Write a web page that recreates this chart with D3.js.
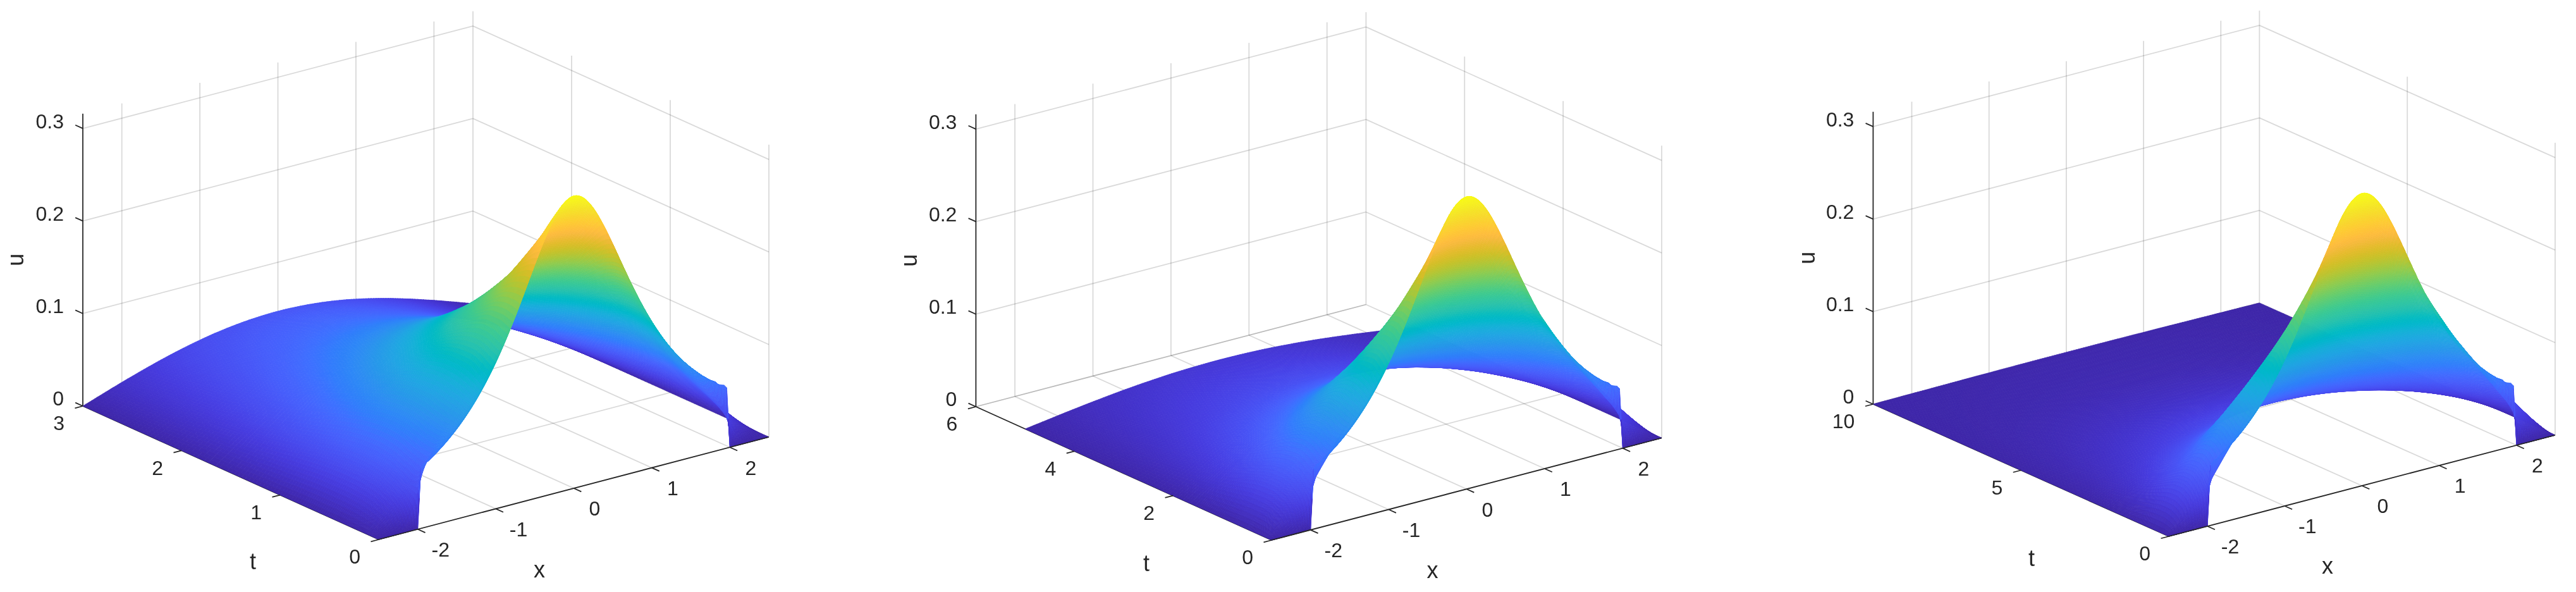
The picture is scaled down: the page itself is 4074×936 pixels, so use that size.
<!DOCTYPE html>
<html><head><meta charset="utf-8"><script src="https://cdn.jsdelivr.net/npm/d3@7"></script>
<style>html,body{margin:0;background:#fff}svg{display:block;filter:blur(.6px)}text{font-family:"Liberation Sans",Arial,sans-serif;fill:#262626}</style></head><body>
<svg id="c" width="4074" height="936"></svg>
<script>
const xGrid=[-2.5,-2.28,-2.14,-2.06,-2,-1.96,-1.86,-1.75,-1.625,-1.5,-1.375,-1.25,-1.125,-1,-.875,-.75,-.625,-.5,-.375,-.25,-.125,0,.125,.25,.375,.5,.625,.75,.875,1,1.125,1.25,1.375,1.5,1.625,1.75,1.86,1.96,2,2.06,2.14,2.28,2.5];
const tGrid=[0,.005,.02,.05,.1,.2,.35,.5,.75,1,1.5,2,3,4,5,7,10];
const uRows=[
[0,0,0,0,0,.0653,.0709,.0778,.0868,.0972,.1093,.1233,.1395,.158,.179,.2022,.2272,.2528,.277,.2974,.3111,.316,.3111,.2974,.277,.2528,.2272,.2022,.179,.158,.1395,.1233,.1093,.0972,.0868,.0778,.0709,.0653,0,0,0,0,0],
[0,0,0,.0037,.0201,.06,.0709,.0779,.0869,.0974,.1095,.1235,.1397,.1583,.1792,.2024,.2273,.2527,.2766,.2967,.3102,.315,.3102,.2967,.2766,.2527,.2273,.2024,.1792,.1583,.1397,.1235,.1095,.0974,.0869,.0779,.0694,.0384,.0201,.0037,0,0,0],
[0,.0003,.0051,.0154,.0279,.045,.069,.0775,.0873,.098,.1102,.1243,.1405,.1591,.18,.203,.2274,.2522,.2753,.2944,.3072,.3117,.3072,.2944,.2753,.2522,.2274,.203,.18,.1591,.1405,.1243,.1102,.098,.0873,.0763,.0604,.0375,.0279,.0154,.0051,.0003,0],
[0,.0042,.0141,.0237,.0325,.042,.062,.074,.0861,.0988,.1117,.126,.1424,.161,.1816,.204,.2275,.2507,.272,.2893,.3006,.3046,.3006,.2893,.272,.2507,.2275,.204,.1816,.161,.1424,.126,.1117,.0988,.0861,.0712,.0551,.0388,.0325,.0237,.0141,.0042,0],
[0,.0117,.0228,.0307,.0373,.042,.0542,.068,.0835,.0985,.1136,.1292,.1461,.1645,.1844,.2053,.2264,.2466,.2645,.2787,.2878,.2909,.2878,.2787,.2645,.2466,.2264,.2053,.1844,.1645,.1461,.1292,.1136,.0985,.0835,.068,.0542,.042,.0373,.0307,.0228,.0117,0],
[0,.0177,.03,.0375,.0434,.0474,.058,.0702,.0849,.1003,.1163,.133,.1503,.168,.186,.2037,.2207,.2361,.2492,.2592,.2655,.2677,.2655,.2592,.2492,.2361,.2207,.2037,.186,.168,.1503,.133,.1163,.1003,.0849,.0702,.058,.0474,.0434,.0375,.03,.0177,0],
[0,.0214,.0353,.0434,.0497,.0539,.0646,.0767,.0909,.1055,.1204,.1355,.1506,.1654,.1797,.193,.2051,.2156,.2241,.2305,.2344,.2357,.2344,.2305,.2241,.2156,.2051,.193,.1797,.1654,.1506,.1355,.1204,.1055,.0909,.0767,.0646,.0539,.0497,.0434,.0353,.0214,0],
[0,.023,.0377,.0461,.0525,.0568,.0675,.0794,.0929,.1064,.1198,.133,.1457,.1579,.1693,.1797,.1889,.1968,.2031,.2077,.2105,.2115,.2105,.2077,.2031,.1968,.1889,.1797,.1693,.1579,.1457,.133,.1198,.1064,.0929,.0794,.0675,.0568,.0525,.0461,.0377,.023,0],
[0,.0227,.037,.0451,.0512,.0552,.0651,.0759,.0878,.0994,.1105,.1211,.131,.1402,.1487,.1562,.1627,.1682,.1725,.1756,.1775,.1781,.1775,.1756,.1725,.1682,.1627,.1562,.1487,.1402,.131,.1211,.1105,.0994,.0878,.0759,.0651,.0552,.0512,.0451,.037,.0227,0],
[0,.0204,.0333,.0405,.0459,.0494,.0582,.0676,.0779,.0878,.0972,.1061,.1143,.1218,.1286,.1346,.1398,.1441,.1475,.1499,.1514,.1519,.1514,.1499,.1475,.1441,.1398,.1346,.1286,.1218,.1143,.1061,.0972,.0878,.0779,.0676,.0582,.0494,.0459,.0405,.0333,.0204,0],
[0,.0151,.0246,.03,.034,.0366,.043,.0499,.0574,.0646,.0714,.0778,.0837,.089,.0938,.0981,.1017,.1047,.1071,.1087,.1098,.1101,.1098,.1087,.1071,.1047,.1017,.0981,.0938,.089,.0837,.0778,.0714,.0646,.0574,.0499,.043,.0366,.034,.03,.0246,.0151,0],
[0,.0113,.0184,.0223,.0253,.0272,.032,.0372,.0428,.0481,.0532,.0579,.0622,.0662,.0698,.0729,.0756,.0778,.0796,.0808,.0816,.0819,.0816,.0808,.0796,.0778,.0756,.0729,.0698,.0662,.0622,.0579,.0532,.0481,.0428,.0372,.032,.0272,.0253,.0223,.0184,.0113,0],
[0,.0065,.0106,.0129,.0146,.0157,.0184,.0214,.0246,.0277,.0306,.0333,.0358,.0381,.0402,.042,.0435,.0448,.0458,.0465,.047,.0471,.047,.0465,.0458,.0448,.0435,.042,.0402,.0381,.0358,.0333,.0306,.0277,.0246,.0214,.0184,.0157,.0146,.0129,.0106,.0065,0],
[0,.0042,.0068,.0083,.0094,.0102,.0119,.0138,.0159,.0179,.0198,.0216,.0232,.0247,.026,.0272,.0282,.029,.0297,.0301,.0304,.0305,.0304,.0301,.0297,.029,.0282,.0272,.026,.0247,.0232,.0216,.0198,.0179,.0159,.0138,.0119,.0102,.0094,.0083,.0068,.0042,0],
[0,.0027,.0044,.0054,.0061,.0066,.0077,.009,.0103,.0116,.0128,.014,.015,.016,.0168,.0176,.0183,.0188,.0192,.0195,.0197,.0198,.0197,.0195,.0192,.0188,.0183,.0176,.0168,.016,.015,.014,.0128,.0116,.0103,.009,.0077,.0066,.0061,.0054,.0044,.0027,0],
[0,.001,.0017,.002,.0023,.0025,.0029,.0033,.0038,.0043,.0048,.0052,.0056,.006,.0063,.0066,.0068,.007,.0072,.0073,.0073,.0074,.0073,.0073,.0072,.007,.0068,.0066,.0063,.006,.0056,.0052,.0048,.0043,.0038,.0033,.0029,.0025,.0023,.002,.0017,.001,0],
[0,.0002,.0003,.0004,.0004,.0005,.0005,.0006,.0007,.0008,.0009,.001,.0011,.0011,.0012,.0012,.0013,.0013,.0014,.0014,.0014,.0014,.0014,.0014,.0014,.0013,.0013,.0012,.0012,.0011,.0011,.001,.0009,.0008,.0007,.0006,.0005,.0005,.0004,.0004,.0003,.0002,0]];
const xTicks=[-2,-1,0,1,2];
const uTicks=[0,.1,.2,.3];
const tTicksByPanel=[[0,1,2,3],[0,2,4,6],[0,5,10]];
const tAxisMax=[3,6,10];
const tSurfaceMax=[3,5,10];
const uColorMax=.316,uAxisTop=.316;
const parula=["#3e26a8","#402ab4","#422ec0","#4332cb","#4537d5","#463bde","#4741e5","#4747eb","#484df0","#4752f4","#4758f8","#465efb","#4563fd","#4269fe","#3e6fff","#3875fe","#327cfc","#2f81f9","#2d87f7","#2d8cf3","#2b91ef","#2796eb","#259be8","#23a0e5","#20a5e3","#1ca9df","#18addb","#12b1d6","#08b5d0","#01b8ca","#02bac3","#0bbdbd","#19bfb5","#24c1ae","#2cc3a7","#31c69f","#37c897","#3fca8e","#4acb84","#57cc7a","#63cd6f","#71cd64","#80cc59","#8fcb4e","#9dc943","#abc739","#b9c431","#c5c22a","#d1bf27","#dcbd29","#e6bb2d","#efba36","#f8ba3d","#febd3c","#fec338","#fec934","#fccf30","#f9d52d","#f7dc2a","#f5e227","#f5e924","#f6ef20","#f7f51b","#f9fb15"];
const color=d3.scaleLinear().domain(parula.map((_,i)=>i/(parula.length-1)*uColorMax)).range(parula).clamp(true);
const frames=[
 {L:[131,642],F:[599,853],R:[1216,691],tTitle:[400,890],xTitle:[853,903],uTitleX:27},
 {L:[1543.4,643],F:[2011,854],R:[2628,692.5],tTitle:[1813,893],xTitle:[2265.5,904],uTitleX:1440},
 {L:[2962.4,639],F:[3430,848],R:[4041,688],tTitle:[3213,885],xTitle:[3681,897],uTitleX:2860}];
const svg=d3.select('#c');
// cubic Hermite shading between the table's nodes, as a surface renderer does inside its faces
function hermite(xs,ys,q){const n=xs.length,h=[],d=[],m=new Array(n);
 for(let i=0;i<n-1;i++){h[i]=xs[i+1]-xs[i];d[i]=(ys[i+1]-ys[i])/h[i]}
 m[0]=d[0];m[n-1]=d[n-2];
 for(let i=1;i<n-1;i++){
  if(d[i-1]*d[i]<=0){m[i]=0;continue}
  const p=(h[i]*d[i-1]+h[i-1]*d[i])/(h[i-1]+h[i]),lim=3*Math.min(Math.abs(d[i-1]),Math.abs(d[i]));
  m[i]=Math.sign(p)*Math.min(Math.abs(p),lim)}
 const bis=d3.bisector(v=>v).right;
 return q.map(v=>{const i=Math.min(n-2,Math.max(0,bis(xs,v)-1)),s=(v-xs[i])/h[i],s2=s*s,s3=s2*s;
  return (2*s3-3*s2+1)*ys[i]+(s3-2*s2+s)*h[i]*m[i]+(-2*s3+3*s2)*ys[i+1]+(s3-s2)*h[i]*m[i+1]})}
function refine(g,f){const o=[];for(let i=0;i<g.length-1;i++){const n=f(g[i],g[i+1],i);for(let k=0;k<n;k++)o.push(g[i]+(g[i+1]-g[i])*k/n)}o.push(g[g.length-1]);return o}
const fineX=refine(xGrid,(a,b)=>Math.max(1,Math.ceil((b-a)/.04)));
frames.forEach((P,pi)=>{
 const tMax=tAxisMax[pi],surfMax=tSurfaceMax[pi],tTicks=tTicksByPanel[pi];
 const xs=d3.scaleLinear([-2.5,2.5],[0,1]),ts=d3.scaleLinear([0,tMax],[0,1]),us=d3.scaleLinear([0,.1],[0,-146.3]);
 const vx=[P.R[0]-P.F[0],P.R[1]-P.F[1]],vt=[P.L[0]-P.F[0],P.L[1]-P.F[1]];
 const proj=(x,t,u)=>[P.F[0]+xs(x)*vx[0]+ts(t)*vt[0],P.F[1]+xs(x)*vx[1]+ts(t)*vt[1]+us(u)];
 const g=svg.append('g');
 const seg=(a,b,s)=>g.append('line').attr('x1',a[0]).attr('y1',a[1]).attr('x2',b[0]).attr('y2',b[1]).attr('stroke',s.c).attr('stroke-opacity',s.o).attr('stroke-width',s.w);
 const grid={c:'#000',o:.15,w:1.8},ax={c:'#262626',o:1,w:1.8};
 tTicks.forEach(t=>{seg(proj(-2.5,t,0),proj(2.5,t,0),grid);seg(proj(2.5,t,0),proj(2.5,t,uAxisTop),grid)});
 xTicks.forEach(x=>{seg(proj(x,0,0),proj(x,tMax,0),grid);seg(proj(x,tMax,0),proj(x,tMax,uAxisTop),grid)});
 uTicks.forEach(u=>{seg(proj(-2.5,tMax,u),proj(2.5,tMax,u),grid);seg(proj(2.5,tMax,u),proj(2.5,0,u),grid)});
 seg(proj(-2.5,0,0),proj(-2.5,tMax,0),ax);seg(proj(-2.5,tMax,0),proj(-2.5,tMax,uAxisTop),ax);
 // surface, painted far to near; each table cell is split finely enough for its change of height and colour
 const tSub=tGrid.filter(t=>t<=surfMax);
 const pxPerT=Math.hypot(vt[0],vt[1])/tMax;
 const fineT=refine(tSub,(a,b,i)=>{const du=d3.max(uRows[i],(v,j)=>Math.abs(v-uRows[i+1][j]));return Math.max(2,Math.ceil((b-a)*pxPerT/7),Math.ceil(du/.003))});
 const byRow=uRows.filter((_,i)=>tGrid[i]<=surfMax).map(r=>hermite(xGrid,r,fineX));
 const cols=fineX.map((_,j)=>hermite(tSub,byRow.map(r=>r[j]),fineT));
 const quads=[];
 for(let it=fineT.length-2;it>=0;it--)for(let ix=fineX.length-2;ix>=0;ix--){
  const corners=[[ix,it],[ix+1,it],[ix+1,it+1],[ix,it+1]];
  const vals=corners.map(p=>Math.max(0,cols[p[0]][p[1]]));
  quads.push({pts:corners.map((p,i)=>proj(fineX[p[0]],fineT[p[1]],vals[i])),v:d3.mean(vals)})}
 g.append('g').selectAll('path').data(quads).join('path')
  .attr('d',q=>'M'+q.pts.map(p=>p[0].toFixed(1)+','+p[1].toFixed(1)).join('L')+'Z')
  .attr('fill',q=>color(q.v)).attr('stroke',q=>color(q.v)).attr('stroke-width',.8);
 seg(proj(-2.5,0,0),proj(2.5,0,0),ax);
 const txt=(p,s,o={})=>g.append('text').attr('x',p[0]).attr('y',p[1]).attr('text-anchor',o.a||'middle').attr('dominant-baseline','middle').attr('font-size',o.s||32).text(s);
 const tickT=tMax*13/514,tickX=13/128;
 xTicks.forEach(x=>{const b=proj(x,0,0);seg(b,proj(x,-tickT,0),ax);txt([b[0]+33+(x<0?3:0),b[1]+35],String(x))});
 tTicks.forEach(t=>{const b=proj(-2.5,t,0);seg(b,proj(-2.5-tickX,t,0),ax);txt([b[0]-29,b[1]+30],String(t),{a:'end'})});
 uTicks.forEach(u=>{const b=proj(-2.5,tMax,u);seg(b,proj(-2.5,tMax+tickT,u),ax);txt([b[0]-30,b[1]-9],String(u),{a:'end'})});
 txt(P.tTitle,'t',{s:36});txt(P.xTitle,'x',{s:36});
 g.append('text').attr('transform',`translate(${P.uTitleX},${proj(-2.5,tMax,.158)[1]}) rotate(-90)`).attr('text-anchor','middle').attr('dominant-baseline','middle').attr('font-size',36).text('u');
});
</script></body></html>
